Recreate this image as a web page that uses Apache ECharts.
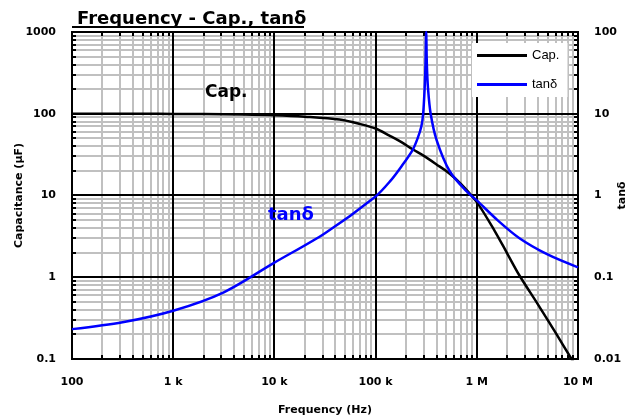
<!DOCTYPE html>
<html>
<head>
<meta charset="utf-8">
<script src="https://cdn.jsdelivr.net/npm/echarts@6/dist/echarts.min.js"></script>
<style>
html,body{margin:0;padding:0;background:#fff;}
#chart{width:641px;height:419px;}
</style>
</head>
<body>
<div id="chart"></div>
<script>
// ---- data ----
const capFreq = [100, 200, 500, 1000, 2000, 5000, 10000, 20000, 44000, 70000, 100000, 137000, 180000, 230000, 300000, 400000, 540000, 700000, 1000000, 1500000, 2000000, 2640000, 4000000, 6000000, 8630000, 10000000];
const capValues = [100, 100, 99.8, 99.5, 99, 98, 96, 92, 85, 75, 66, 54, 45, 37, 30.5, 24, 18.5, 13.8, 8.3, 3.7, 1.95, 1.05, 0.47, 0.21, 0.1, 0.075];

const tanFreq = [100, 316, 1000, 3160, 10000, 31600, 100000, 140000, 180000, 232000, 260000, 283000, 295000, 305000, 311000, 316000, 321000, 330000, 350000, 400000, 540000, 790000, 1000000, 1600000, 2640000, 5000000, 10000000];
const tanValues = [0.0232, 0.0282, 0.039, 0.0655, 0.151, 0.346, 0.975, 1.51, 2.27, 3.6, 5.0, 7.0, 10, 20, 40, 100, 40, 20, 10, 4.8, 1.98, 1.13, 0.87, 0.5, 0.3, 0.19, 0.132];

const xTickValues = [100, 1000, 10000, 100000, 1000000, 10000000];
const xTickLabels = ['100', '1 k', '10 k', '100 k', '1 M', '10 M'];
const capTickValues = [0.1, 1, 10, 100, 1000];
const capTickLabels = ['0.1', '1', '10', '100', '1000'];
const tanTickValues = [0.01, 0.1, 1, 10, 100];
const tanTickLabels = ['0.01', '0.1', '1', '10', '100'];

const seriesNames = ['Cap.', 'tanδ'];
const titleText = 'Frequency - Cap., tanδ';
const xName = 'Frequency (Hz)';
const capAxisName = 'Capacitance (μF)';
const tanAxisName = 'tanδ';

// ---- helpers ----
function pickLabel(values, labels) {
  return function (v) {
    for (let i = 0; i < values.length; i++) {
      if (Math.abs(Math.log10(values[i]) - Math.log10(v)) < 1e-6) return labels[i];
    }
    return '';
  };
}
function zip(a, b) { return a.map((v, i) => [v, b[i]]); }

// grid line positions (axis structure: each decade and its 2..9 subdivisions)
function logGridPositions(min, max) {
  const out = [];
  for (let d = min; d < max * 0.999; d *= 10) {
    for (let k = 1; k <= 9; k++) out.push([d * k, k === 1 ? 1 : 0]);
  }
  out.push([max, 1]);
  return out;
}
const vGrid = logGridPositions(100, 1e7).map(p => [p[0], 1, p[1]]);
const hGrid = logGridPositions(0.1, 1000).map(p => [100, p[0], p[1]]);

const GRAY = '#c0c0c0';
function lineEl(x1, y1, x2, y2, color, w, z2) {
  return { type: 'line', shape: { x1, y1, x2, y2 }, style: { stroke: color, lineWidth: w }, z2 };
}

const chart = echarts.init(document.getElementById('chart'), null, { renderer: 'canvas' });

const boldFont = 'DejaVu Sans';

const option = {
  animation: false,
  backgroundColor: '#fff',
  title: {
    text: titleText,
    left: 72,
    top: 5,
    textStyle: { fontFamily: boldFont, fontWeight: 'bold', fontSize: 18, color: '#000' }
  },
  grid: {
    left: 72, top: 32, width: 506, height: 327,
    show: true, borderColor: '#000', borderWidth: 2, backgroundColor: '#fff',
    containLabel: false,
    outerBoundsMode: 'none'
  },
  legend: {
    data: seriesNames,
    orient: 'vertical',
    left: 472, top: 43,
    backgroundColor: '#fff',
    padding: [6, 8, 6, 5],
    itemWidth: 50, itemHeight: 3, itemGap: 16,
    icon: 'rect',
    textStyle: { fontFamily: 'Liberation Sans', fontSize: 13, color: '#000' },
    z: 10
  },
  xAxis: {
    type: 'log', logBase: 10, min: 100, max: 1e7,
    name: xName, nameLocation: 'middle', nameGap: 46, nameMoveOverlap: false,
    nameTextStyle: { fontFamily: boldFont, fontWeight: 'bold', fontSize: 11, color: '#000' },
    axisLine: { show: true, lineStyle: { color: '#000', width: 2 } },
    axisTick: { show: false },
    splitLine: { show: false },
    minorTick: { show: false },
    axisLabel: {
      formatter: pickLabel(xTickValues, xTickLabels), margin: 18,
      fontFamily: boldFont, fontWeight: 'bold', fontSize: 11, color: '#000'
    }
  },
  yAxis: [
    {
      type: 'log', logBase: 10, min: 0.1, max: 1000, position: 'left',
      name: capAxisName, nameLocation: 'middle', nameGap: 47, nameRotate: 90, nameMoveOverlap: false,
      nameTextStyle: { fontFamily: boldFont, fontWeight: 'bold', fontSize: 11, color: '#000' },
      axisLine: { show: true, lineStyle: { color: '#000', width: 2 } },
      axisTick: { show: false },
      splitLine: { show: false },
      axisLabel: {
        formatter: pickLabel(capTickValues, capTickLabels), margin: 16,
        fontFamily: boldFont, fontWeight: 'bold', fontSize: 11, color: '#000'
      }
    },
    {
      type: 'log', logBase: 10, min: 0.01, max: 100, position: 'right',
      name: tanAxisName, nameLocation: 'middle', nameGap: 39, nameRotate: 90, nameMoveOverlap: false,
      nameTextStyle: { fontFamily: boldFont, fontWeight: 'bold', fontSize: 11, color: '#000' },
      axisLine: { show: true, lineStyle: { color: '#000', width: 2 } },
      axisTick: { show: false },
      splitLine: { show: false },
      axisLabel: {
        formatter: pickLabel(tanTickValues, tanTickLabels), margin: 16,
        fontFamily: boldFont, fontWeight: 'bold', fontSize: 11, color: '#000'
      }
    }
  ],
  graphic: [
    { type: 'line', shape: { x1: 72, y1: 27, x2: 304, y2: 27 }, style: { stroke: '#000', lineWidth: 2 } },
    { type: 'text', left: 205, top: 84, z: 20,
      style: { text: seriesNames[0], fill: '#000', font: 'bold 17px "DejaVu Sans"' } },
    { type: 'text', left: 268, top: 206, z: 20,
      style: { text: seriesNames[1], fill: '#0000ff', font: 'bold 18px "DejaVu Sans"' } }
  ],
  series: [
    {
      name: 'vgrid', type: 'custom', xAxisIndex: 0, yAxisIndex: 0, z: 1, silent: true,
      encode: { x: 0, y: 1 },
      data: vGrid,
      renderItem: function (params, api) {
        const cs = params.coordSys;
        const p = api.coord([api.value(0), 1]);
        const major = api.value(2) === 1;
        const x = Math.round(p[0]);
        const els = [lineEl(x, cs.y, x, cs.y + cs.height, major ? '#000' : GRAY, 2, major ? 5 : 1)];
        if (!major) {
          els.push(lineEl(x, cs.y + cs.height, x, cs.y + cs.height - 4, '#000', 2, 6));
          els.push(lineEl(x, cs.y, x, cs.y + 4, '#000', 2, 6));
        }
        return { type: 'group', children: els };
      }
    },
    {
      name: 'hgrid', type: 'custom', xAxisIndex: 0, yAxisIndex: 0, z: 1, silent: true,
      encode: { x: 0, y: 1 },
      data: hGrid,
      renderItem: function (params, api) {
        const cs = params.coordSys;
        const p = api.coord([100, api.value(1)]);
        const major = api.value(2) === 1;
        const y = Math.round(p[1]);
        const els = [lineEl(cs.x, y, cs.x + cs.width, y, major ? '#000' : GRAY, 2, major ? 5 : 1)];
        if (!major) {
          els.push(lineEl(cs.x, y, cs.x + 4, y, '#000', 2, 6));
          els.push(lineEl(cs.x + cs.width, y, cs.x + cs.width - 4, y, '#000', 2, 6));
        }
        return { type: 'group', children: els };
      }
    },
    {
      name: seriesNames[0], type: 'line', xAxisIndex: 0, yAxisIndex: 0, z: 3,
      data: zip(capFreq, capValues),
      showSymbol: false, smooth: 0.3, clip: true,
      color: '#000',
      lineStyle: { color: '#000', width: 2.5 }
    },
    {
      name: seriesNames[1], type: 'line', xAxisIndex: 0, yAxisIndex: 1, z: 3,
      data: zip(tanFreq, tanValues),
      showSymbol: false, smooth: 0.3, clip: true,
      color: '#0000ff',
      lineStyle: { color: '#0000ff', width: 2.5 }
    }
  ]
};
chart.setOption(option);
</script>
</body>
</html>
